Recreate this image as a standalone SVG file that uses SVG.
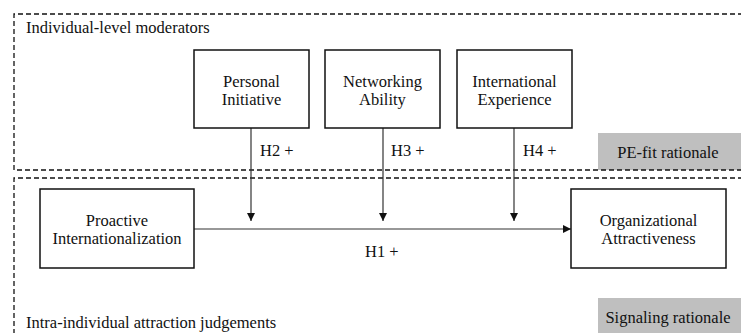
<svg xmlns="http://www.w3.org/2000/svg" width="741" height="333" viewBox="0 0 741 333">
  <defs>
    <marker id="arrow" viewBox="0 0 10 10" refX="10" refY="5" markerWidth="8" markerHeight="8" markerUnits="userSpaceOnUse" orient="auto">
      <path d="M0,0 L10,5 L0,10 z" fill="#111"/>
    </marker>
    <style>
      text { font-size: 16.5px; fill: #111; }
      .mid { text-anchor: middle; }
      .node rect { fill: #fff; stroke: #111; stroke-width: 1.5; }
      .zone { fill: none; stroke: #111; stroke-width: 1.3; stroke-dasharray: 5 3; }
      .tag { fill: #bfbfbf; }
      .edge { fill: none; stroke: #333; stroke-width: 1.2; }
    </style>
  </defs>
  <rect width="741" height="333" fill="#fff"/>

  <g font-family="'Liberation Serif', 'DejaVu Serif', serif">
  <!-- rationale labels -->
  <g id="pe-fit-tag">
    <rect class="tag" x="598" y="133" width="143" height="37"/>
    <text class="mid" x="668" y="158">PE-fit rationale</text>
  </g>
  <g id="signaling-tag">
    <rect class="tag" x="598" y="298" width="143" height="35"/>
    <text class="mid" x="668" y="323">Signaling rationale</text>
  </g>

  <!-- dashed level frames -->
  <g id="moderator-level">
    <path class="zone" d="M743,14 H14 V170 H743"/>
    <text x="26" y="33">Individual-level moderators</text>
  </g>
  <g id="attraction-level">
    <path class="zone" d="M743,178 H14 V335"/>
    <text x="26" y="328">Intra-individual attraction judgements</text>
  </g>

  <!-- connectors -->
  <g id="connectors">
    <line class="edge" x1="194" y1="229" x2="571" y2="229" marker-end="url(#arrow)"/>
    <line class="edge" x1="251" y1="128" x2="251" y2="221" marker-end="url(#arrow)"/>
    <line class="edge" x1="383" y1="128" x2="383" y2="221" marker-end="url(#arrow)"/>
    <line class="edge" x1="514" y1="128" x2="514" y2="221" marker-end="url(#arrow)"/>
    <text x="260" y="156">H2 +</text>
    <text x="391" y="156">H3 +</text>
    <text x="523" y="156">H4 +</text>
    <text x="365" y="257">H1 +</text>
  </g>

  <!-- nodes -->
  <g id="personal-initiative" class="node">
    <rect x="194" y="50" width="115" height="78"/>
    <text class="mid" x="251.5" y="87">Personal</text>
    <text class="mid" x="251.5" y="105">Initiative</text>
  </g>
  <g id="networking-ability" class="node">
    <rect x="325" y="50" width="115" height="78"/>
    <text class="mid" x="382.5" y="87">Networking</text>
    <text class="mid" x="382.5" y="105">Ability</text>
  </g>
  <g id="international-experience" class="node">
    <rect x="457" y="50" width="115" height="78"/>
    <text class="mid" x="514.5" y="87">International</text>
    <text class="mid" x="514.5" y="105">Experience</text>
  </g>
  <g id="proactive-internationalization" class="node">
    <rect x="40" y="189" width="154" height="79"/>
    <text class="mid" x="117" y="226">Proactive</text>
    <text class="mid" x="117" y="244">Internationalization</text>
  </g>
  <g id="organizational-attractiveness" class="node">
    <rect x="571" y="189" width="155" height="79"/>
    <text class="mid" x="648.5" y="226">Organizational</text>
    <text class="mid" x="648.5" y="244">Attractiveness</text>
  </g>
  </g>
</svg>
